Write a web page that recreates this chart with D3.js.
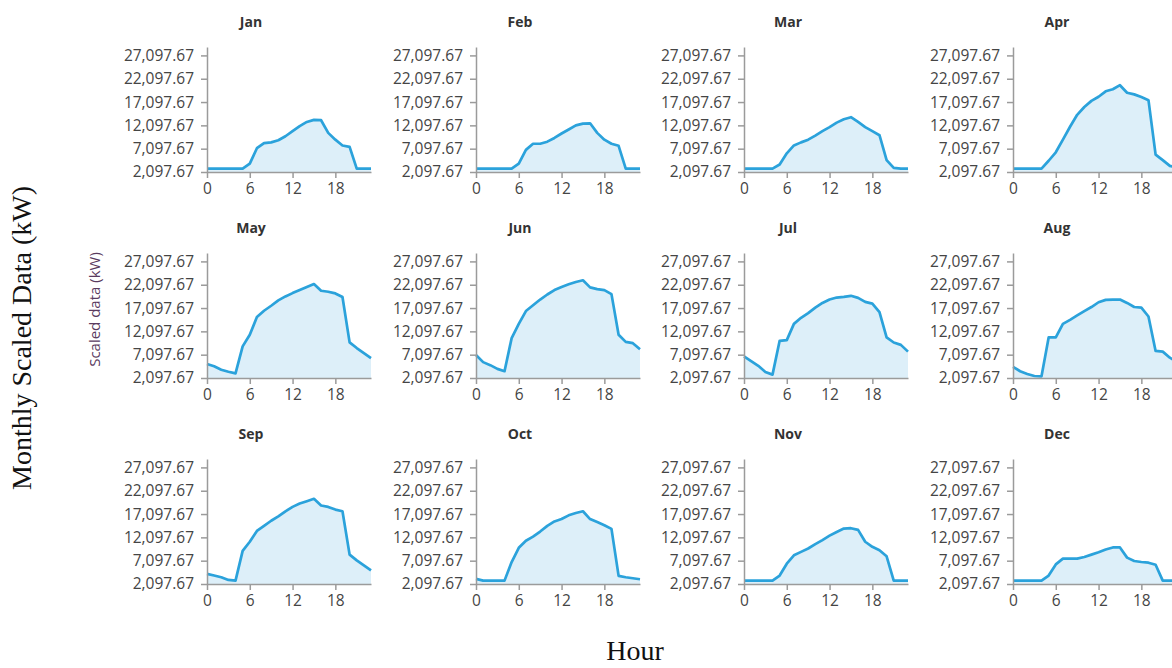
<html>
<head>
<title>Monthly Scaled Data</title>
<style>
body {
	margin: 0;
	background: #fff;
}
#chart text {
	font-family: "Open Sans", "Noto Sans", sans-serif;
}
</style>
</head>
<body>
	<div id="chart"></div>
</body>
<script src="https://cdn.jsdelivr.net/npm/d3@7"></script>
<script>
	var months = [ "Jan", "Feb", "Mar", "Apr", "May", "Jun", "Jul", "Aug",
			"Sep", "Oct", "Nov", "Dec" ];
	var hours = [ 0, 1, 2, 3, 4, 5, 6, 7, 8, 9, 10, 11, 12, 13, 14, 15, 16, 17,
			18, 19, 20, 21, 22, 23 ];
	var xTicks = [ 0, 6, 12, 18 ];
	var yTicks = [ 2097.67, 7097.67, 12097.67, 17097.67, 22097.67, 27097.67 ];
	var yMin = 2097.67, yMax = 28900;

	// hourly scaled data (kW)
	var jan = [ 2830, 2830, 2830, 2830, 2830, 2830, 3900, 7200, 8300, 8450,
			8900, 9760, 10860, 11950, 12830, 13270, 13200, 10490, 9030, 7790,
			7500, 2830, 2830, 2830 ];
	var feb = [ 2830, 2830, 2830, 2830, 2830, 2830, 3900, 6840, 8160, 8160,
			8600, 9400, 10350, 11220, 12100, 12470, 12540, 10490, 9030, 8160,
			7720, 2830, 2830, 2830 ];
	var mar = [ 2830, 2830, 2830, 2830, 2830, 3700, 6110, 7790, 8450, 9030,
			9910, 10860, 11730, 12680, 13410, 13850, 12830, 11730, 10860, 9980,
			4650, 2970, 2830, 2830 ];
	var apr = [ 2830, 2830, 2830, 2830, 2830, 4510, 6330, 9030, 11800, 14360,
			16040, 17350, 18230, 19400, 19840, 20710, 19100, 18740, 18160,
			17500, 5820, 4650, 3410, 3000 ];
	var may = [ 5100, 4600, 3880, 3450, 3100, 8880, 11380, 15160, 16520,
			17590, 18730, 19590, 20300, 20950, 21590, 22230, 20800, 20590,
			20230, 19450, 9740, 8520, 7450, 6380 ];
	var jun = [ 7030, 5500, 4850, 4060, 3550, 10650, 13700, 16450, 17690,
			18920, 20000, 20950, 21600, 22180, 22690, 23050, 21530, 21160,
			20950, 20080, 11380, 9850, 9560, 8260 ];
	var jul = [ 6740, 5720, 4710, 3400, 2820, 10070, 10220, 13700, 15000,
			16020, 17180, 18190, 18920, 19350, 19500, 19720, 19280, 18410,
			18050, 16240, 10800, 9710, 9200, 7750 ];
	var aug = [ 4490, 3550, 2970, 2530, 2460, 10800, 10800, 13700, 14570,
			15510, 16450, 17320, 18340, 18850, 18920, 18920, 18190, 17320,
			17180, 15290, 7900, 7750, 6450, 5500 ];
	var sep = [ 4270, 3910, 3550, 2970, 2820, 9200, 11160, 13480, 14570,
			15660, 16600, 17690, 18630, 19350, 19860, 20370, 18920, 18630,
			18050, 17690, 8400, 7170, 6080, 5000 ];
	var oct = [ 3185, 2820, 2820, 2820, 2820, 6810, 9860, 11380, 12250, 13340,
			14570, 15510, 16020, 16820, 17320, 17690, 16020, 15370, 14710,
			13920, 3840, 3550, 3330, 3110 ];
	var nov = [ 2820, 2820, 2820, 2820, 2820, 3910, 6450, 8260, 8980, 9710,
			10650, 11520, 12460, 13260, 13990, 14060, 13700, 11160, 10070,
			9350, 8040, 2820, 2820, 2820 ];
	var dec = [ 2820, 2820, 2820, 2820, 2820, 3910, 6300, 7530, 7530, 7530,
			7900, 8400, 8910, 9490, 9930, 9930, 7750, 7030, 6810, 6670, 6230,
			2820, 2820, 2820 ];
	var series = [ jan, feb, mar, apr, may, jun, jul, aug, sep, oct, nov, dec ];

	var W = 1172, H = 668;
	var plotW = 164, plotH = 125;
	var colX = [ 207, 476, 744, 1013 ]; // left edge of each plot column
	var rowY = [ 172, 378, 584 ]; // baseline of each plot row

	var svg = d3.select("#chart").append("svg").attr("width", W).attr(
			"height", H);

	var x = d3.scaleLinear().domain([ 0, 23 ]).range([ 0, plotW ]);
	var y = d3.scaleLinear().domain([ yMin, yMax ]).range([ plotH, 0 ]);

	var area = d3.area().x(function(d, i) {
		return x(hours[i]);
	}).y0(y(yMin)).y1(function(d) {
		return y(d);
	});
	var line = d3.line().x(function(d, i) {
		return x(hours[i]);
	}).y(function(d) {
		return y(d);
	});

	months.forEach(function(m, i) {
		var col = i % 4, row = Math.floor(i / 4);
		var g = svg.append("g").attr("transform",
				"translate(" + colX[col] + "," + (rowY[row] - plotH) + ")");

		g.append("text").attr("x", plotW / 2 - 38).attr("y", -20).attr(
				"text-anchor", "middle").style("font-size", "14px").style(
				"font-weight", "bold").style("fill", "#333").text(m);

		g.append("path").datum(series[i]).attr("d", area).attr("fill",
				"#ddeff9");
		g.append("path").datum(series[i]).attr("d", line).attr("fill",
				"none").attr("stroke", "#2ba2db").attr("stroke-width", 2.7)
				.attr("stroke-linejoin", "round");

		var ya = g.append("g").call(
				d3.axisLeft(y).tickValues(yTicks).tickFormat(d3.format(",.2f"))
						.tickSize(6).tickPadding(7).tickSizeOuter(0));
		var xa = g.append("g").attr("transform", "translate(0," + plotH + ")")
				.call(
						d3.axisBottom(x).tickValues(xTicks).tickSize(6)
								.tickPadding(5).tickSizeOuter(0));
		[ ya, xa ].forEach(function(a) {
			a.select(".domain").attr("stroke", "#9b9b9b").attr("stroke-width",
					1.5);
			a.selectAll(".tick line").attr("stroke", "#9b9b9b").attr(
					"stroke-width", 1.5);
			a.selectAll(".tick text").style("font-size", "15.5px").style(
					"fill", "#454545");
		});

		if (i == 4) {
			g.append("text").attr("transform", "rotate(-90)").attr("x",
					-plotH / 2 + 6).attr("y", -107).attr("text-anchor",
					"middle").style("font-size", "15px").style("fill",
					"#5a3b5f").text("Scaled data (kW)");
		}
	});

	// outer titles
	svg.append("text").attr("x", 635).attr("y", 660).attr("text-anchor",
			"middle").style("font-family", "'Liberation Serif', serif").style(
			"font-size", "28px").style("fill", "#111").text("Hour");
	svg.append("text").attr("transform", "translate(31,338) rotate(-90)")
			.attr("text-anchor", "middle").style("font-family",
					"'Liberation Serif', serif").style("font-size", "28px")
			.style("fill", "#111").text("Monthly Scaled Data (kW)");
</script>
</html>
